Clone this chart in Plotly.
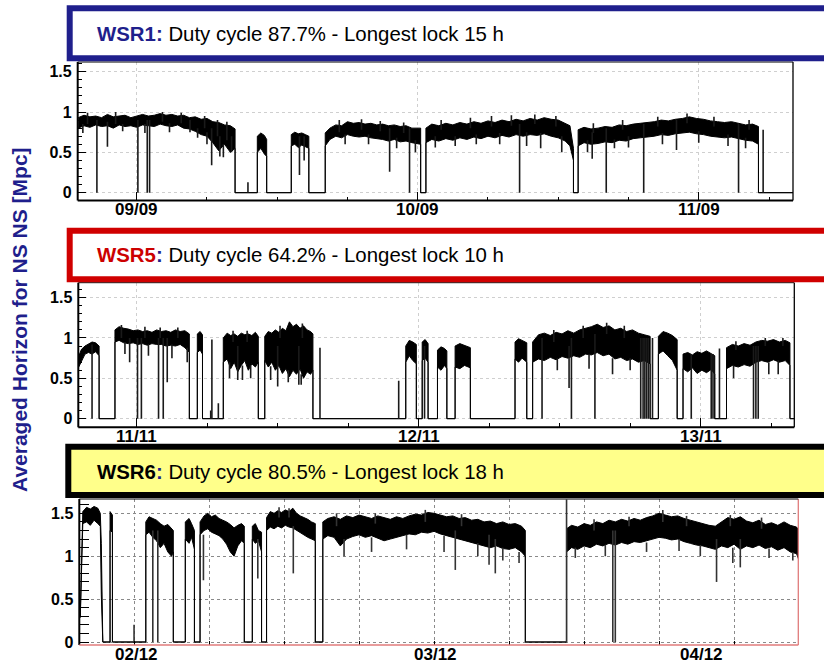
import plotly.graph_objects as go

# ---------------- WSR1 (hours since 09/09 00:00) ----------------
w1_t = [-5.0, -4.5, -4.0, -3.5, -3.0, -2.5, -2.0, -1.5, -1.0, -0.5, 0.0, 0.5, 1.0, 1.5, 2.0, 2.5, 3.0, 3.5, 4.0, 4.5, 5.0, 5.5, 6.0, 6.5, 7.0, 7.5, 8.0, 8.4,
        8.4, 10.3,
        10.3, 10.6, 10.9, 11.1,
        11.1, 13.2,
        13.2, 13.5, 13.8, 14.1, 14.4, 14.7,
        14.7, 16.1,
        16.1, 16.5, 17.0, 17.5, 18.0, 18.5, 19.0, 19.5, 20.0, 20.5, 21.0, 21.5, 22.0, 22.5, 23.0, 23.5, 24.25,
        24.25, 24.7,
        24.7, 25.2, 25.8, 26.4, 27.0, 27.6, 28.2, 28.8, 29.4, 30.0, 30.6, 31.2, 31.8, 32.4, 33.0, 33.6, 34.2, 34.8, 35.4, 36.0, 36.6, 37.0, 37.3,
        37.3, 37.7,
        37.7, 38.2, 38.8, 39.4, 40.0, 40.6, 41.2, 41.8, 42.4, 43.0, 43.6, 44.2, 44.8, 45.4, 46.0, 46.6, 47.2, 47.8, 48.4, 49.0, 49.6, 50.2, 50.8, 51.4, 52.0, 52.6, 53.1,
        53.1, 56.5]
w1_hi = [.93, .96, .94, .95, .93, .97, .94, .95, .96, .93, .95, .97, .95, .96, .98, .96, .97, .95, .96, .93, .94, .91, .92, .88, .87, .84, .83, .79,
         0, 0,
         .70, .74, .71, .66,
         0, 0,
         .72, .75, .73, .74, .72, .70,
         0, 0,
         .74, .80, .84, .83, .88, .86, .87, .85, .86, .84, .85, .83, .84, .82, .83, .80, .80,
         0, 0,
         .80, .85, .83, .86, .84, .87, .85, .88, .86, .89, .87, .90, .88, .91, .89, .92, .90, .93, .91, .90, .86, .83, .55,
         0, 0,
         .78, .81, .79, .80, .82, .81, .84, .83, .85, .86, .87, .88, .90, .89, .91, .92, .94, .92, .91, .89, .88, .87, .88, .86, .84, .85, .82,
         0, 0]
w1_lo = [.80, .83, .81, .84, .82, .83, .80, .84, .82, .83, .81, .84, .83, .82, .85, .83, .82, .84, .80, .79, .76, .72, .70, .62, .52, .60, .50, .55,
         0, 0,
         .50, .55, .48, .45,
         0, 0,
         .58, .60, .56, .59, .57, .55,
         0, 0,
         .58, .66, .70, .68, .72, .70, .69, .70, .68, .67, .66, .64, .66, .63, .64, .62, .60,
         0, 0,
         .62, .66, .64, .67, .65, .68, .66, .69, .67, .70, .68, .71, .69, .72, .70, .72, .71, .73, .70, .68, .64, .58, .40,
         0, 0,
         .58, .62, .60, .61, .63, .62, .65, .64, .67, .68, .69, .70, .72, .71, .73, .74, .75, .73, .72, .70, .69, .68, .69, .67, .65, .64, .60,
         0, 0]
# spikes / glitches: time, bottom, top
w1_spike_t = [-3.4, -2.5, 0.1, 0.9, 1.1, 4.55, 6.4, 7.1, 8.1, 9.5, 13.9, 14.3, 21.6, 23.3, 32.7, 38.9, 40.1, 43.3, 46.1, 51.4, 53.5,
              -4.2, -1.8, 2.2, 3.8, 5.8, 6.9, 7.7, -4.6, -1.2, 0.7, 2.8, 5.2, 6.0, 7.4,
              17.3, 19.2, 20.8, 22.8, 17.8, 19.8, 22.2, 23.8,
              26.0, 28.5, 30.3, 32.0, 34.0, 35.8, 25.5, 27.2, 29.0, 31.0, 33.3, 34.5, 36.3,
              39.0, 41.5, 44.5, 47.0, 49.3, 52.3, 38.5, 40.8, 42.0, 44.9, 48.0, 50.5, 52.0]
w1_spike_lo = [0, .57, 0, 0, 0, .75, .34, .45, .50, 0, .22, .40, .26, 0, 0, .42, 0, 0, .53, 0, 0,
               .85, .85, .88, .86, .80, .70, .65, .74, .76, .74, .75, .68, .60, .44,
               .75, .78, .76, .74, .60, .60, .55, .50,
               .78, .80, .82, .83, .85, .82, .56, .58, .60, .60, .58, .55, .50,
               .74, .78, .82, .86, .82, .78, .50, .55, .56, .60, .62, .58, .55]
w1_spike_hi = [.90, .88, .90, .90, .90, .90, .80, .70, .70, .13, .70, .70, .80, .80, .85, .75, .80, .85, .90, .85, .78,
               .99, 1.0, 1.0, .99, .95, .90, .88, .85, .85, .85, .86, .80, .75, .60,
               .90, .91, .89, .87, .72, .72, .68, .65,
               .90, .93, .95, .96, .97, .95, .70, .70, .72, .74, .75, .74, .70,
               .86, .90, .94, .98, .94, .90, .65, .66, .70, .74, .76, .72, .68]

# ---------------- WSR5 (hours since 11/11 00:00) ----------------
w5_t = [-5.0, -4.7, -4.4, -4.1, -3.8, -3.5, -3.2,
        -3.2, -1.85,
        -1.85, -1.5, -1.1, -0.7, -0.3, 0.1, 0.5, 0.9, 1.3, 1.7, 2.1, 2.5, 2.9, 3.3, 3.7, 4.1, 4.48,
        4.48, 5.16,
        5.16, 5.4, 5.6,
        5.6, 7.37,
        7.37, 7.7, 8.0, 8.3, 8.6, 8.9, 9.2, 9.5, 9.8, 10.1, 10.35,
        10.35, 10.9,
        10.9, 11.2, 11.5, 11.8, 12.1, 12.4, 12.7, 13.0, 13.3, 13.6, 13.9, 14.2, 14.5, 14.8, 15.0,
        15.0, 22.9,
        22.9, 23.2, 23.5, 23.8,
        23.8, 24.3,
        24.3, 24.55, 24.8,
        24.8, 25.6,
        25.6, 25.9, 26.2, 26.4,
        26.4, 27.1,
        27.1, 27.5, 27.9, 28.4,
        28.4, 32.2,
        32.2, 32.5, 32.8, 33.2,
        33.2, 33.7,
        33.7, 34.2, 34.7, 35.2, 35.7, 36.2, 36.7, 37.2, 37.7, 38.2, 38.7, 39.2, 39.7, 40.2, 40.7, 41.2, 41.7, 42.2, 42.7, 43.2, 43.7,
        43.7, 44.4,
        44.4, 44.8, 45.2, 45.6, 46.0,
        46.0, 46.5,
        46.5, 46.9, 47.3, 47.7, 48.1, 48.5, 48.9, 49.2,
        49.2, 50.2,
        50.2, 50.7, 51.2, 51.7, 52.2, 52.7, 53.2, 53.7, 54.2, 54.7, 55.2, 55.6,
        55.6, 56.5]
w5_hi = [.75, .86, .90, .93, .95, .94, .90,
         0, 0,
         1.10, 1.14, 1.12, 1.11, 1.09, 1.10, 1.08, 1.09, 1.07, 1.10, 1.08, 1.09, 1.07, 1.10, 1.08, 1.09, 1.05,
         0, 0,
         1.05, 1.08, 1.04,
         0, 0,
         1.00, 1.06, 1.03, 1.05, 1.02, 1.06, 1.04, 1.05, 1.03, 1.07, 1.02,
         0, 0,
         1.02, 1.08, 1.06, 1.10, 1.07, 1.12, 1.09, 1.20, 1.14, 1.17, 1.12, 1.15, 1.10, 1.08, 1.05,
         0, 0,
         .90, .97, .95, .92,
         0, 0,
         .95, .98, .93,
         0, 0,
         .85, .89, .87, .84,
         0, 0,
         .90, .93, .91, .88,
         0, 0,
         .95, .99, .97, .94,
         0, 0,
         .95, 1.04, 1.06, 1.03, 1.07, 1.05, 1.09, 1.06, 1.10, 1.12, 1.14, 1.17, 1.13, 1.15, 1.10, 1.12, 1.08, 1.10, 1.06, 1.04, 1.02,
         0, 0,
         1.02, 1.08, 1.06, 1.03, .98,
         0, 0,
         .80, .82, .79, .83, .81, .84, .80, .78,
         0, 0,
         .88, .92, .90, .93, .91, .95, .97, .96, .98, .95, .97, .94,
         0, 0]
w5_lo = [.62, .72, .80, .82, .80, .83, .78,
         0, 0,
         .95, .97, .94, .93, .94, .92, .93, .91, .93, .92, .92, .90, .91, .90, .92, .88, .82,
         0, 0,
         .82, .85, .80,
         0, 0,
         .70, .74, .62, .70, .58, .66, .72, .60, .68, .64, .70,
         0, 0,
         .72, .64, .70, .60, .66, .56, .62, .52, .60, .55, .62, .50, .58, .55, .60,
         0, 0,
         .70, .78, .72, .68,
         0, 0,
         .72, .75, .70,
         0, 0,
         .64, .60, .66, .62,
         0, 0,
         .64, .62, .66, .63,
         0, 0,
         .74, .70, .75, .70,
         0, 0,
         .70, .74, .72, .76, .73, .77, .75, .78, .76, .80, .79, .82, .78, .80, .74, .76, .72, .74, .70, .72, .68,
         0, 0,
         .80, .84, .78, .72, .60,
         0, 0,
         .62, .58, .63, .56, .60, .57, .61, .55,
         0, 0,
         .62, .66, .64, .67, .65, .70, .72, .70, .73, .70, .72, .66,
         0, 0]
w5_spike_t = [-3.8, -0.6, 0.07, 0.4, 1.86, 2.26, 2.6, 6.3, 6.4, 6.95, 8.6, 12.0, 13.8, 15.6, 22.3, 24.5, 34.5, 36.8, 37.0, 39.0,
              42.9, 43.1, 43.25, 43.4, 43.55, 43.9, 47.2, 48.9, 49.05, 49.6, 52.5, 52.7, 52.9,
              -1.3, 0.7, 2.0, 3.5, -1.0, 1.0, 3.0, 4.3,
              7.9, 9.0, 9.7, 8.2, 9.4,
              11.4, 12.9, 14.0, 12.2, 14.1,
              35.5, 38.0, 40.0, 41.5, 35.8, 38.5, 40.5, 42.0,
              51.0, 53.5, 55.0, 50.8, 53.8, 54.6]
w5_spike_lo = [0, .70, 0, 0, 0, 0, .45, 0, 0, 0, .48, .40, .42, 0, 0, 0, 0, .38, 0, 0,
               0, 0, 0, 0, 0, 0, 0, 0, 0, 0, 0, 0, 0,
               1.0, 1.0, 1.0, 1.0, .80, .78, .75, .70,
               .50, .48, .50, .95, .95,
               .48, .45, .42, 1.0, 1.0,
               .95, 1.0, 1.05, 1.0, .60, .62, .55, .60,
               .85, .90, .90, .50, .55, .55]
w5_spike_hi = [.92, 1.0, 1.0, 1.0, 1.0, 1.0, 1.0, .10, .98, .19, .90, .90, .90, .88, .47, .90, 1.0, .90, 1.0, 1.05,
               1.0, 1.0, 1.0, 1.0, 1.0, 1.0, .80, .80, .80, .87, .90, .90, .90,
               1.16, 1.14, 1.13, 1.13, .95, .92, .92, .88,
               .70, .66, .66, 1.09, 1.09,
               .65, .60, .55, 1.15, 1.18,
               1.10, 1.15, 1.19, 1.15, .75, .80, .75, .75,
               .96, 1.0, 1.0, .66, .70, .72]

# ---------------- WSR6 (hours since 02/12 00:00) ----------------
w6_t = [-4.5, -4.3, -4.1, -3.8, -3.5, -3.2, -2.9, -2.7, -2.62,
        -2.5, -1.92,
        -1.92, -1.73,
        -1.73, 0.94,
        0.94, 1.2, 1.5, 1.8, 2.1, 2.4, 2.7, 3.0, 3.14,
        3.14, 4.1,
        4.1, 4.4, 4.6, 4.83,
        4.83, 5.28,
        5.28, 5.6, 5.9, 6.2, 6.5, 6.8, 7.1, 7.4, 7.7, 8.0, 8.3, 8.6, 8.82,
        8.82, 9.46,
        9.46, 9.7, 9.95, 10.2,
        10.2, 10.6,
        10.6, 10.9, 11.2, 11.5, 11.8, 12.1, 12.4, 12.7, 13.0, 13.3, 13.6, 13.9, 14.2, 14.5,
        14.5, 15.1,
        15.1, 15.5, 16.0, 16.5, 17.0, 17.5, 18.0, 18.5, 19.0, 19.5, 20.0, 20.5, 21.0, 21.5, 22.0, 22.5, 23.0, 23.5, 24.0, 24.5,
        25.0, 25.5, 26.0, 26.5, 27.0, 27.5, 28.0, 28.5, 29.0, 29.5, 30.0, 30.5, 31.0, 31.3,
        31.3, 34.6,
        34.6, 35.0, 35.5, 36.0, 36.5, 37.0, 37.5, 38.0, 38.5, 39.0, 39.5, 40.0, 40.5, 41.0, 41.5, 42.0, 42.5, 43.0, 43.5, 44.0,
        44.5, 45.0, 45.5, 46.0, 46.5, 47.0, 47.5, 48.0, 48.5, 49.0, 49.5, 50.0, 50.5, 51.0, 51.5, 52.0, 52.5, 53.0, 53.2]
w6_hi = [.22, .30, 1.52, 1.57, 1.55, 1.58, 1.56, 1.50, 1.15,
         0, 0,
         1.52, 1.48,
         0, 0,
         1.40, 1.46, 1.44, 1.42, 1.38, 1.35, 1.37, 1.33, 1.30,
         0, 0,
         1.40, 1.44, 1.38, 1.30,
         0, 0,
         1.40, 1.47, 1.50, 1.46, 1.48, 1.44, 1.42, 1.40, 1.37, 1.33, 1.36, 1.38, 1.35,
         0, 0,
         1.35, 1.38, 1.30, 1.28,
         0, 0,
         1.45, 1.52, 1.50, 1.53, 1.51, 1.54, 1.52, 1.56, 1.50, 1.47, 1.45, 1.43, 1.40, 1.38,
         0, 0,
         1.40, 1.44, 1.46, 1.43, 1.47, 1.45, 1.48, 1.46, 1.44, 1.47, 1.45, 1.43, 1.46, 1.44, 1.47, 1.49, 1.48, 1.51, 1.50, 1.48,
         1.46, 1.47, 1.44, 1.45, 1.42, 1.43, 1.40, 1.41, 1.38, 1.40, 1.37, 1.38, 1.35, 1.30,
         0, 0,
         1.32, 1.36, 1.34, 1.38, 1.36, 1.40, 1.38, 1.42, 1.40, 1.43, 1.41, 1.44, 1.42, 1.45, 1.47, 1.50, 1.48, 1.46, 1.47, 1.44,
         1.42, 1.40, 1.38, 1.36, 1.35, 1.40, 1.45, 1.43, 1.46, 1.41, 1.39, 1.42, 1.37, 1.39, 1.36, 1.40, 1.36, 1.34, 1.30]
w6_lo = [.22, .30, 1.38, 1.40, 1.36, 1.42, 1.38, 1.35, .55,
         0, 0,
         1.30, 1.28,
         0, 0,
         1.25, 1.28, 1.22, 1.18, 1.10, 1.15, 1.05, 1.00, 1.05,
         0, 0,
         1.20, 1.15, 1.22, 1.08,
         0, 0,
         1.25, 1.30, 1.32, 1.28, 1.26, 1.24, 1.20, 1.14, 1.05, 1.00, 1.12, 1.18, 1.15,
         0, 0,
         1.20, 1.15, 1.18, 1.05,
         0, 0,
         1.30, 1.34, 1.32, 1.35, 1.33, 1.36, 1.34, 1.33, 1.30, 1.28, 1.25, 1.22, 1.20, 1.18,
         0, 0,
         1.20, 1.24, 1.22, 1.12, 1.20, 1.23, 1.25, 1.22, 1.24, 1.21, 1.18, 1.20, 1.22, 1.24, 1.26, 1.25, 1.28, 1.27, 1.29, 1.26,
         1.24, 1.22, 1.20, 1.18, 1.16, 1.14, 1.12, 1.10, 1.12, 1.09, 1.08, 1.10, 1.05, 1.00,
         0, 0,
         1.05, 1.10, 1.08, 1.12, 1.10, 1.14, 1.12, 1.15, 1.13, 1.16, 1.14, 1.17, 1.16, 1.18, 1.20, 1.22, 1.21, 1.19, 1.20, 1.17,
         1.15, 1.13, 1.12, 1.10, 1.08, 1.12, 1.10, 1.14, 1.08, 1.12, 1.10, 1.13, 1.09, 1.11, 1.07, 1.10, 1.05, 1.03, 0.95]
w6_spike_t = [0.0, 1.5, 1.9, 5.55, 9.9, 12.74, 25.7, 28.4, 28.9, 34.6, 38.3, 38.5, 46.6, 48.5,
              16.2, 19.3, 23.3, 26.2, 16.8, 19.0, 21.8, 24.8, 27.5, 29.5, 30.8,
              36.8, 39.6, 42.3, 44.2, 47.7, 50.2, 35.3, 37.7, 41.0, 43.6, 45.3, 47.9, 50.8, 52.7,
              11.6, 12.4]
w6_spike_lo = [0, 0, 0, .72, .74, .80, .84, .90, .80, 0, 0, 0, .70, .87,
               1.35, 1.38, 1.40, 1.35, 1.00, 1.05, 1.08, 1.05, 1.00, .95, .92,
               1.30, 1.35, 1.40, 1.35, 1.35, 1.32, .98, 1.00, 1.05, 1.06, 1.00, .92, .98, .95,
               1.45, 1.45]
w6_spike_hi = [.20, 1.30, 1.30, 1.25, 1.20, 1.35, 1.30, 1.25, 1.20, 1.66, 1.30, 1.30, 1.20, 1.20,
               1.50, 1.50, 1.54, 1.49, 1.20, 1.22, 1.25, 1.24, 1.15, 1.10, 1.05,
               1.43, 1.46, 1.54, 1.47, 1.48, 1.45, 1.10, 1.13, 1.16, 1.20, 1.13, 1.10, 1.09, 1.05,
               1.57, 1.56]

# ---------------- labels ----------------
w1_ticks = [0, 24, 48]
w1_ticktext = ["09/09", "10/09", "11/09"]
w5_ticks = [0, 24, 48]
w5_ticktext = ["11/11", "12/11", "13/11"]
w6_ticks = [0.16, 24.08, 45.4]
w6_ticktext = ["02/12", "03/12", "04/12"]
titles = [("WSR1", "#1f1f8c", "Duty cycle 87.7% - Longest lock 15 h"),
          ("WSR5", "#cc0000", "Duty cycle 64.2% - Longest lock 10 h"),
          ("WSR6", "#000000", "Duty cycle 80.5% - Longest lock 18 h")]
ylabel = "Averaged Horizon for NS NS [Mpc]"

for a, b, c in [(w1_t, w1_hi, w1_lo), (w5_t, w5_hi, w5_lo), (w6_t, w6_hi, w6_lo),
                (w1_spike_t, w1_spike_lo, w1_spike_hi), (w5_spike_t, w5_spike_lo, w5_spike_hi),
                (w6_spike_t, w6_spike_lo, w6_spike_hi)]:
    assert len(a) == len(b) == len(c), (len(a), len(b), len(c))

W, H = 824, 663
NAVY = "#1f1f8c"
FONT = "Liberation Sans, Arial, sans-serif"


def px(x):
    return x / W


def py(y):
    return 1 - y / H


panels = [
    dict(t=w1_t, hi=w1_hi, lo=w1_lo, st=w1_spike_t, slo=w1_spike_lo, shi=w1_spike_hi,
         tv=w1_ticks, tt=w1_ticktext, xd=[px(77.7), px(793)], yd=[py(200.5), py(62)],
         xr=[-5.04, 56.05], yr=[-0.097, 1.62], p3=False, lab_y=209),
    dict(t=w5_t, hi=w5_hi, lo=w5_lo, st=w5_spike_t, slo=w5_spike_lo, shi=w5_spike_hi,
         tv=w5_ticks, tt=w5_ticktext, xd=[px(78.3), px(794.3)], yd=[py(427.3), py(282.7)],
         xr=[-4.97, 55.97], yr=[-0.107, 1.685], p3=False, lab_y=436),
    dict(t=w6_t, hi=w6_hi, lo=w6_lo, st=w6_spike_t, slo=w6_spike_lo, shi=w6_spike_hi,
         tv=w6_ticks, tt=w6_ticktext, xd=[px(79.3), px(798.3)], yd=[py(645), py(499)],
         xr=[-4.38, 53.14], yr=[-0.035, 1.667], p3=True, lab_y=654),
]

fig = go.Figure()
layout = dict(width=W, height=H, margin=dict(l=0, r=0, t=0, b=0, autoexpand=False),
              paper_bgcolor="white", plot_bgcolor="white", showlegend=False)
shapes = []
annotations = []
xtickfont = dict(family=FONT, size=17, color="black", weight="bold")
ytickfont = dict(family=FONT, size=16, color="black", weight="bold")

for i, p in enumerate(panels):
    n = "" if i == 0 else str(i + 1)
    xa, ya = "x" + n, "y" + n
    fig.add_trace(go.Scatter(x=p["t"], y=p["lo"], mode="lines", xaxis=xa, yaxis=ya,
                             line=dict(color="black", width=1), hoverinfo="skip"))
    fig.add_trace(go.Scatter(x=p["t"], y=p["hi"], mode="lines", xaxis=xa, yaxis=ya, fill="tonexty",
                             fillcolor="black", line=dict(color="black", width=1), hoverinfo="skip"))
    sx, sy = [], []
    for t, a, b in zip(p["st"], p["slo"], p["shi"]):
        sx += [t, t, None]
        sy += [a, b, None]
    fig.add_trace(go.Scatter(x=sx, y=sy, mode="lines", xaxis=xa, yaxis=ya,
                             line=dict(color="#1a1a1a" if not p["p3"] else "#333333", width=1.6),
                             hoverinfo="skip"))
    gcol = "#8a8a8a" if p["p3"] else "#cfcfcf"
    layout["xaxis" + n] = dict(
        domain=p["xd"], range=p["xr"], anchor=ya, tickmode="array", tickvals=p["tv"], ticktext=p["tt"],
        showticklabels=False,
        showline=False, zeroline=False, ticks="" if p["p3"] else "inside", ticklen=9, tickwidth=1,
        tickcolor="black", showgrid=not p["p3"], gridcolor=gcol, griddash="dot", gridwidth=1,
        fixedrange=True, automargin=False,
        minor=dict(tickmode="linear", tick0=0, dtick=6, ticks="inside", ticklen=4, tickcolor="black",
                   showgrid=p["p3"], gridcolor=gcol, griddash="dot", gridwidth=1))
    layout["yaxis" + n] = dict(
        domain=p["yd"], range=p["yr"], anchor=xa, tickmode="linear", tick0=0, dtick=0.5,
        showline=False, zeroline=False, ticks="inside", ticklen=10 if p["p3"] else 8, tickwidth=1,
        tickcolor="black", showgrid=True, gridcolor=gcol, griddash="dot", gridwidth=1,
        tickfont=ytickfont, fixedrange=True, automargin=False, ticklabelstandoff=5,
        minor=dict(tickmode="linear", tick0=0, dtick=0.1, ticks="inside", ticklen=10 if p["p3"] else 4,
                   tickcolor="black", showgrid=False))
    # date labels under each axis, anchored at the axis tick values
    for tv, tt in zip(p["tv"], p["tt"]):
        annotations.append(dict(xref=xa, yref="paper", x=tv, y=py(p["lab_y"]), xanchor="center",
                                yanchor="middle", showarrow=False, text=tt, font=xtickfont))
    xr, yr = xa + " domain", ya + " domain"
    edge = "#e07b7b" if p["p3"] else "black"
    shapes += [
        dict(type="line", xref=xr, yref=yr, x0=0, x1=0, y0=0, y1=1, line=dict(color="black", width=2)),
        dict(type="line", xref=xr, yref=yr, x0=0, x1=1, y0=0, y1=0,
             line=dict(color=edge, width=1.5 if p["p3"] else 2)),
        dict(type="line", xref=xr, yref=yr, x0=1, x1=1, y0=0, y1=1, line=dict(color=edge, width=1.3)),
        dict(type="line", xref=xr, yref=yr, x0=0, x1=1, y0=1, y1=1, line=dict(color="black", width=1)),
    ]

# title boxes
boxes = [
    dict(l=69.7, t=8.3, b=58.3, border=NAVY, fill="white", ty=34),
    dict(l=69.7, t=230.7, b=279.3, border="#d00000", fill="white", ty=255.5),
    dict(l=68.3, t=446.7, b=495.0, border="black", fill="#ffff8a", ty=472),
]
for bx, (name, ncol, rest) in zip(boxes, titles):
    shapes.append(dict(type="rect", xref="paper", yref="paper", x0=px(bx["l"]), x1=px(840),
                       y0=py(bx["b"]), y1=py(bx["t"]), line=dict(color=bx["border"], width=6),
                       fillcolor=bx["fill"], layer="above"))
    annotations.append(dict(
        xref="paper", yref="paper", x=px(95), y=py(bx["ty"]), xanchor="left", yanchor="middle",
        showarrow=False,
        text=f"<b><span style='color:{ncol}'>{name}</span><span style='color:{NAVY}'>:</span></b> {rest}",
        font=dict(family=FONT, size=20.4, color="black")))

annotations.append(dict(xref="paper", yref="paper", x=px(19), y=py(320), xanchor="center", yanchor="middle",
                        showarrow=False, textangle=-90, text=f"<b>{ylabel}</b>",
                        font=dict(family=FONT, size=21, color=NAVY)))

layout["shapes"] = shapes
layout["annotations"] = annotations
fig.update_layout(**layout)
fig.write_html("out.html")
